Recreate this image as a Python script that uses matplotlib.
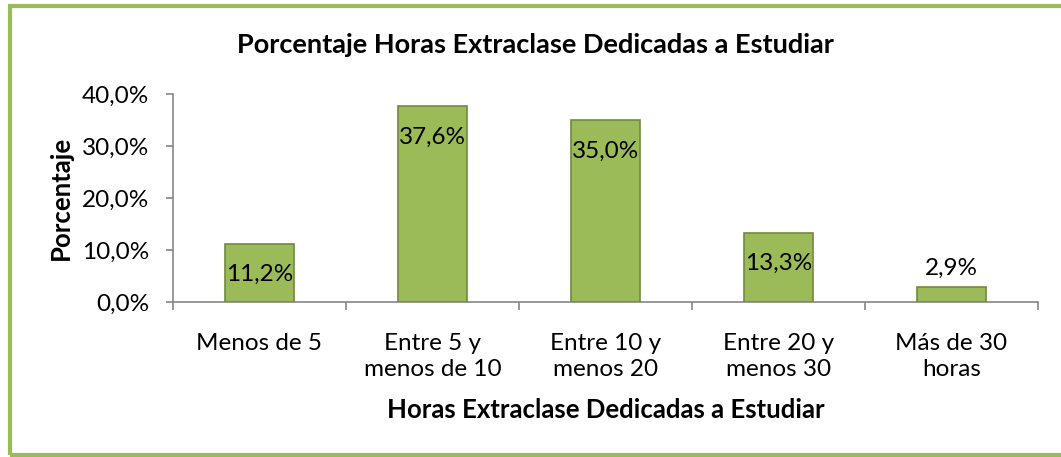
import matplotlib.pyplot as plt
from matplotlib.patches import Rectangle

categorias = ['Menos de 5', 'Entre 5 y\nmenos de 10', 'Entre 10 y\nmenos 20',
              'Entre 20 y\nmenos 30', 'Más de 30\nhoras']
porcentajes = [11.2, 37.6, 35.0, 13.3, 2.9]
etiquetas = ['11,2%', '37,6%', '35,0%', '13,3%', '2,9%']
y_ticks = [0, 10, 20, 30, 40]
y_labels = ['0,0%', '10,0%', '20,0%', '30,0%', '40,0%']

verde = '#9BBB59'
borde = '#71893F'
gris = '#868686'

plt.rcParams['font.family'] = ['Lato', 'DejaVu Sans']

fig = plt.figure(figsize=(10.61, 4.57), dpi=100)
ax = fig.add_axes([173 / 1061, 1 - 302 / 457, 865 / 1061, 208 / 457])

x = list(range(1, len(categorias) + 1))
ax.bar(x, porcentajes, width=0.4, color=verde, edgecolor=borde, linewidth=1.2, zorder=3)

# etiquetas de datos: dentro del extremo, salvo la barra pequena
for xi, v, t in zip(x, porcentajes, etiquetas):
    if v > 5:
        ax.annotate(t, (xi, v), xytext=(0, -31), textcoords='offset pixels',
                    ha='center', va='center', fontsize=17.5, color='black')
    else:
        ax.annotate(t, (xi, v), xytext=(0, 19), textcoords='offset pixels',
                    ha='center', va='center', fontsize=17.5, color='black')

ax.set_xlim(0.5, len(categorias) + 0.5)
ax.set_ylim(0, 40)

ax.set_yticks(y_ticks)
ax.set_yticklabels(y_labels, fontsize=17.5)
ax.tick_params(axis='y', length=5, color=gris, width=1.2, pad=12)

ax.set_xticks([i + 0.5 for i in range(len(categorias) + 1)])
ax.set_xticklabels([])
ax.set_xticks(x, minor=True)
ax.set_xticklabels(categorias, minor=True, fontsize=17.5, linespacing=1.3)
ax.tick_params(axis='x', which='major', length=6, color=gris, width=1.2)
ax.tick_params(axis='x', which='minor', length=0, pad=22)

for s in ['top', 'right']:
    ax.spines[s].set_visible(False)
for s in ['left', 'bottom']:
    ax.spines[s].set_color(gris)
    ax.spines[s].set_linewidth(1.2)

ax.set_ylabel('Porcentaje', fontsize=18.5, fontweight='bold')
ax.yaxis.set_label_coords((61 - 173) / 865, 0.5)
ax.yaxis.label.set_va('center')
ax.set_xlabel('Horas Extraclase Dedicadas a Estudiar', fontsize=18.5, fontweight='bold')
ax.xaxis.set_label_coords(0.5, (302 - 410) / 208)
ax.xaxis.label.set_va('center')
fig.text(535 / 1061, 1 - 45 / 457, 'Porcentaje Horas Extraclase Dedicadas a Estudiar',
         ha='center', va='center', fontsize=19.5, fontweight='bold')

# marco verde del grafico
fig.add_artist(Rectangle((10 / 1061, 1 - 455 / 457), 1.2, 449 / 457,
                         transform=fig.transFigure, fill=False,
                         edgecolor=verde, linewidth=3, clip_on=False))

fig.savefig('out.png', dpi=100)
